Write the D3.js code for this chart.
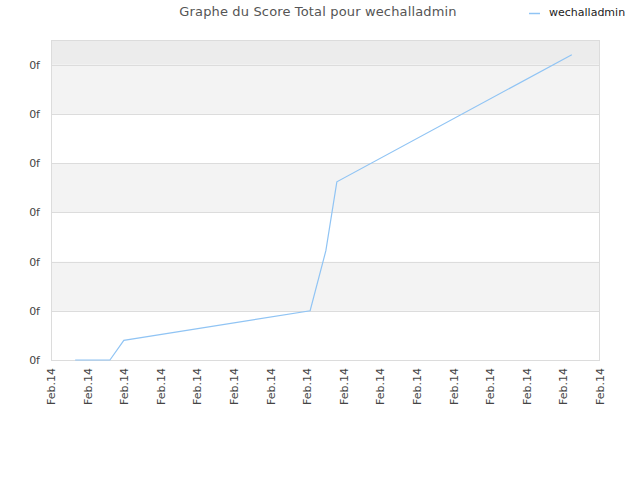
<!DOCTYPE html>
<html>
<head>
<meta charset="utf-8">
<script src="https://cdn.jsdelivr.net/npm/d3@7"></script>
<style>
  body { margin: 0; background: #fff; }
  text { font-family: "DejaVu Sans", sans-serif; }
</style>
</head>
<body>
<svg width="640" height="480"></svg>
<script>
let seriesName = 'wechalladmin';
let title = 'Graphe du Score Total pour wechalladmin';

/* x positions in tick units, scores in grid units */
let xValues = [0.66, 1.61, 1.99, 7.08, 7.51, 7.81, 14.23];
let scores = [0, 0, 0.4, 1.0, 2.22, 3.62, 6.2];

let xTickLabels = ['Feb.14', 'Feb.14', 'Feb.14', 'Feb.14', 'Feb.14', 'Feb.14', 'Feb.14', 'Feb.14',
  'Feb.14', 'Feb.14', 'Feb.14', 'Feb.14', 'Feb.14', 'Feb.14', 'Feb.14', 'Feb.14'];
let yTickValues = [0, 1, 2, 3, 4, 5, 6];
let yTickLabels = ['0f', '0f', '0f', '0f', '0f', '0f', '0f'];

let svg = d3.select('svg');

let plotLeft = 51, plotRight = 600, plotTop = 40, plotBottom = 360;

let x = d3.scaleLinear().domain([0, xTickLabels.length - 1]).range([plotLeft, plotRight]);
let y = d3.scaleLinear().domain([0, 6.5]).range([plotBottom, plotTop]);

/* Background bands */
let bands = [];
for(let i = 0; i < yTickValues.length; i++) {
  let y0 = yTickValues[i];
  let y1 = i + 1 < yTickValues.length ? yTickValues[i + 1] : y.domain()[1];
  bands.push([y0, y1, i]);
}
svg.append('g').selectAll('rect').data(bands).enter().append('rect')
  .attr('x', plotLeft)
  .attr('width', plotRight - plotLeft)
  .attr('y', d => y(d[1]))
  .attr('height', d => y(d[0]) - y(d[1]))
  .attr('fill', d => d[2] === yTickValues.length - 1 ? '#ececec' : (d[2] % 2 === 1 ? '#f3f3f3' : '#ffffff'));

/* Grid lines */
svg.append('g').selectAll('line').data(yTickValues).enter().append('line')
  .attr('x1', plotLeft).attr('x2', plotRight)
  .attr('y1', d => Math.round(y(d)) + 0.5).attr('y2', d => Math.round(y(d)) + 0.5)
  .attr('stroke', '#dcdcdc').attr('stroke-width', 1);

/* Frame */
svg.append('rect')
  .attr('x', plotLeft + 0.5).attr('y', plotTop + 0.5)
  .attr('width', plotRight - plotLeft - 1).attr('height', plotBottom - plotTop)
  .attr('fill', 'none').attr('stroke', '#dcdcdc');

/* Y labels */
svg.append('g').selectAll('text').data(yTickValues).enter().append('text')
  .attr('x', plotLeft - 11)
  .attr('y', d => y(d) + 4)
  .attr('text-anchor', 'end')
  .attr('font-size', 11)
  .attr('fill', '#444')
  .text((d, i) => yTickLabels[i]);

/* X labels */
svg.append('g').selectAll('text').data(xTickLabels).enter().append('text')
  .attr('transform', (d, i) => 'translate(' + (x(i) + 4) + ',' + (plotBottom + 8) + ') rotate(-90)')
  .attr('text-anchor', 'end')
  .attr('font-size', 11)
  .attr('fill', '#444')
  .text(d => d);

/* Series line */
let line = d3.line()
  .x((d, i) => x(xValues[i]))
  .y(d => y(d));
svg.append('path')
  .datum(scores)
  .attr('d', line)
  .attr('fill', 'none')
  .attr('stroke', '#90c4f4')
  .attr('stroke-width', 1.2);

/* Title */
svg.append('text')
  .attr('x', 318).attr('y', 16)
  .attr('text-anchor', 'middle')
  .attr('font-size', 13)
  .attr('letter-spacing', 0.15)
  .attr('fill', '#555')
  .text(title);

/* Legend */
svg.append('line')
  .attr('x1', 529).attr('x2', 540)
  .attr('y1', 13.5).attr('y2', 13.5)
  .attr('stroke', '#90c4f4').attr('stroke-width', 1.5);
svg.append('text')
  .attr('x', 549).attr('y', 16)
  .attr('font-size', 11)
  .attr('fill', '#222')
  .text(seriesName);
</script>
</body>
</html>
